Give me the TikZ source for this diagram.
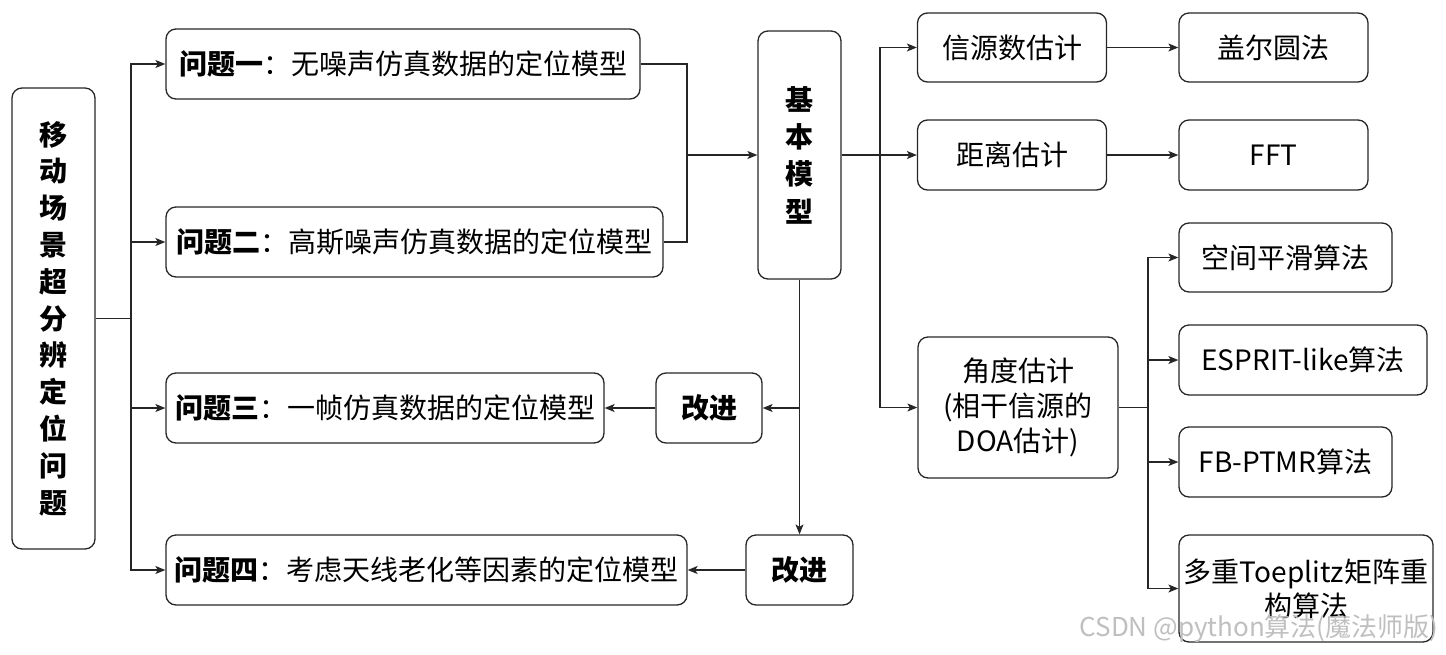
\documentclass[tikz,border=0pt]{standalone}
\usepackage{fontspec}
\setmainfont{Noto Sans CJK SC}
\usetikzlibrary{arrows.meta}
\begin{document}
\begin{tikzpicture}[x=1pt,y=-1pt,
  box/.style={draw=black!85,line width=1.3pt,rounded corners=10pt,inner sep=0pt,align=center,
    font=\fontsize{28}{36}\selectfont,text=black},
  conn/.style={draw=black!85,line width=1.2pt},
  arr/.style={conn,-{Stealth[length=10pt,width=8pt,inset=2.5pt]}}]
\useasboundingbox (0,0) rectangle (1446,654);
% nodes
\node[box,minimum width=83pt,minimum height=461pt,font=\bfseries\fontsize{28}{36.8}\selectfont] (main) at (53.5,318.5)
  {移\\动\\场\\景\\超\\分\\辨\\定\\位\\问\\题};
\node[box,minimum width=474pt,minimum height=70pt] (q1) at (403,64) {\textbf{问题一}：无噪声仿真数据的定位模型};
\node[box,minimum width=497pt,minimum height=70pt] (q2) at (414.5,242) {\textbf{问题二}：高斯噪声仿真数据的定位模型};
\node[box,minimum width=438pt,minimum height=70pt] (q3) at (385,408) {\textbf{问题三}：一帧仿真数据的定位模型};
\node[box,minimum width=521pt,minimum height=70pt] (q4) at (426.5,570) {\textbf{问题四}：考虑天线老化等因素的定位模型};
\node[box,minimum width=83pt,minimum height=248pt,font=\bfseries\fontsize{28}{37.3}\selectfont] (base) at (799.5,155)
  {基\\本\\模\\型};
\node[box,minimum width=106pt,minimum height=70pt,font=\bfseries\fontsize{28}{36}\selectfont] (imp1) at (709,408) {改进};
\node[box,minimum width=107pt,minimum height=70pt,font=\bfseries\fontsize{28}{36}\selectfont] (imp2) at (799.5,570) {改进};
\node[box,minimum width=189pt,minimum height=69pt] (s1) at (1012,47.5) {信源数估计};
\node[box,minimum width=189pt,minimum height=70pt] (s2) at (1012,155) {距离估计};
\node[box,minimum width=200pt,minimum height=141pt,font=\fontsize{28}{35}\selectfont] (s3) at (1018,407.5) {角度估计\\(相干信源的\\DOA估计)};
\node[box,minimum width=189pt,minimum height=69pt] (g1) at (1273.5,47.5) {盖尔圆法};
\node[box,minimum width=189pt,minimum height=70pt] (g2) at (1273.5,155) {FFT};
\node[box,minimum width=213pt,minimum height=69pt] (a1) at (1285.5,257.5) {空间平滑算法};
\node[box,minimum width=248pt,minimum height=70pt] (a2) at (1303,360) {ESPRIT-like算法};
\node[box,minimum width=213pt,minimum height=70pt] (a3) at (1285.5,462) {FB-PTMR算法};
\node[box,minimum width=254pt,minimum height=107pt,font=\fontsize{28}{34}\selectfont] (a4) at (1306,588.5) {多重Toeplitz矩阵重\\构算法};
% junction coordinates
\coordinate (t0) at (131,318.5);
\coordinate (m1) at (687,155);
\coordinate (b1) at (880,155);
\coordinate (b2) at (1148,407.5);
\coordinate (b3) at (base.south |- imp1.east);
% connectors
\draw[conn] (main.east) -- (t0);
\draw[arr] (t0) |- (q1.west);
\draw[arr] (t0) |- (q2.west);
\draw[arr] (t0) |- (q3.west);
\draw[arr] (t0) |- (q4.west);
\draw[conn] (q1.east) -| (m1);
\draw[conn] (q2.east) -| (m1);
\draw[arr] (m1) -- (base.west);
\draw[conn] (base.east) -- (b1);
\draw[arr] (b1) |- (s1.west);
\draw[arr] (b1) -- (s2.west);
\draw[arr] (b1) |- (s3.west);
\draw[arr] (s1.east) -- (g1.west);
\draw[arr] (s2.east) -- (g2.west);
\draw[conn] (s3.east) -- (b2);
\draw[arr] (b2) |- (a1.west);
\draw[arr] (b2) |- (a2.west);
\draw[arr] (b2) |- (a3.west);
\draw[arr] (b2) |- (a4.west);
\draw[arr] (base.south) -- (imp2.north);
\draw[arr] (b3) -- (imp1.east);
\draw[arr] (imp1.west) -- (q3.east);
\draw[arr] (imp2.west) -- (q4.east);
% watermark
\node[text=black!25,font=\fontsize{26}{30}\selectfont,inner sep=0pt] (wm) at (1259,629) {CSDN @python算法(魔法师版)};
\end{tikzpicture}
\end{document}
